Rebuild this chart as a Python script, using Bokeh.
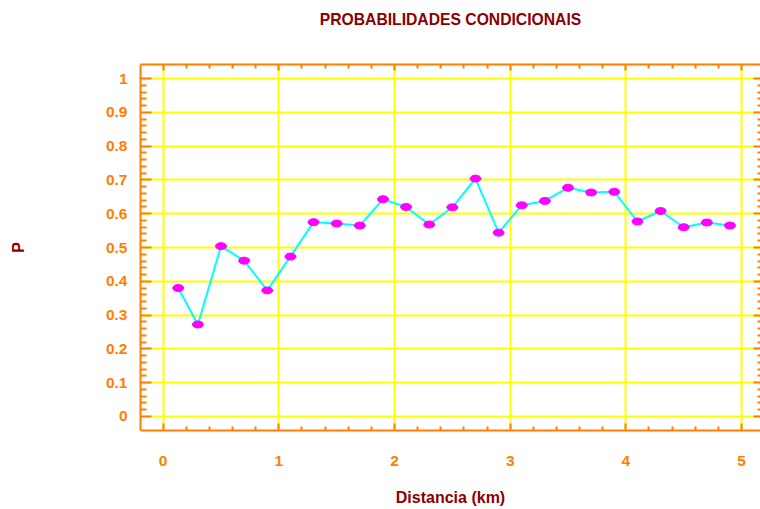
import numpy as np
from bokeh.plotting import figure
from bokeh.models import LinearAxis, FixedTicker, Range1d, ColumnDataSource, Grid
from bokeh.embed import file_html
from bokeh.resources import INLINE

# ---- data ----
distancia = [0.13, 0.3, 0.5, 0.7, 0.9, 1.1, 1.3, 1.5, 1.7, 1.9, 2.1, 2.3, 2.5,
             2.7, 2.9, 3.1, 3.3, 3.5, 3.7, 3.9, 4.1, 4.3, 4.5, 4.7, 4.9]
prob = [0.380, 0.272, 0.504, 0.461, 0.373, 0.473, 0.575, 0.571, 0.565, 0.643,
        0.620, 0.568, 0.619, 0.704, 0.544, 0.625, 0.638, 0.677, 0.663, 0.665,
        0.577, 0.608, 0.560, 0.574, 0.565]
x_ticks = [0, 1, 2, 3, 4, 5]
y_ticks = [0, 0.1, 0.2, 0.3, 0.4, 0.5, 0.6, 0.7, 0.8, 0.9, 1]
y_tick_labels = ["0", "0.1", "0.2", "0.3", "0.4", "0.5", "0.6", "0.7", "0.8", "0.9", "1"]
title_text = "PROBABILIDADES CONDICIONAIS"
x_label = "Distancia (km)"
y_label = "P"

ORANGE = "#FF8000"
DARKRED = "#8B0000"
YELLOW = "#FFFF00"
FONT = "Liberation Sans"

x_minor = [round(v, 2) for v in np.arange(-0.2, 5.21, 0.2) if abs(v - round(v)) > 1e-6]
y_minor = [round(v, 2) for v in np.arange(0.0, 1.001, 0.02) if abs(v * 10 - round(v * 10)) > 1e-6]
xticker = FixedTicker(ticks=x_ticks, minor_ticks=x_minor)
yticker = FixedTicker(ticks=y_ticks, minor_ticks=y_minor)

p = figure(width=760, height=509,
           x_range=Range1d(-0.196, 5.164), y_range=Range1d(-0.042, 1.042),
           output_backend="svg", toolbar_location=None,
           x_axis_location=None, y_axis_location=None,
           min_border_left=140, min_border_right=0,
           min_border_top=64, min_border_bottom=79)
p.outline_line_color = None
p.background_fill_color = "white"
p.border_fill_color = "white"
p.title.text = ""
p.title.visible = False


def style_axis(ax, tick_in, minor_in, line=True):
    ax.axis_line_color = ORANGE if line else None
    ax.axis_line_width = 2
    ax.major_tick_line_color = ORANGE
    ax.major_tick_line_width = 2
    ax.minor_tick_line_color = ORANGE
    ax.minor_tick_line_width = 2
    ax.major_tick_in = tick_in
    ax.major_tick_out = 0
    ax.minor_tick_in = minor_in
    ax.minor_tick_out = 0
    ax.major_label_text_font = FONT
    ax.major_label_text_font_style = "bold"
    ax.major_label_text_color = ORANGE
    ax.major_label_text_font_size = "15.5px"
    ax.axis_label_text_font = FONT
    ax.axis_label_text_font_style = "bold"
    ax.axis_label_text_font_size = "16px"
    ax.axis_label_text_color = DARKRED


bottom = LinearAxis(ticker=xticker, axis_label=x_label)
style_axis(bottom, 7, 4)
bottom.major_label_standoff = 25
bottom.axis_label_standoff = 20
p.add_layout(bottom, "below")

left = LinearAxis(ticker=yticker, axis_label=y_label,
                  major_label_overrides={t: s for t, s in zip(y_ticks, y_tick_labels)})
style_axis(left, 11, 6)
left.major_label_standoff = 13
left.axis_label_standoff = 76
p.add_layout(left, "left")

# top side: major ticks (nearest the frame, zero size), then the axis line +
# minor ticks, which also carries the chart title
top_major = LinearAxis(ticker=FixedTicker(ticks=[], minor_ticks=x_ticks))
style_axis(top_major, 0, 6, line=False)
top_major.major_label_standoff = 0
p.add_layout(top_major, "above")
top_minor = LinearAxis(ticker=FixedTicker(ticks=[], minor_ticks=x_minor), axis_label=title_text)
style_axis(top_minor, 0, 4)
top_minor.major_label_standoff = 0
top_minor.axis_label_text_font_size = "15.7px"
top_minor.axis_label_standoff = 37
p.add_layout(top_minor, "above")

# right side: ticks only
right_minor = LinearAxis(ticker=FixedTicker(ticks=[], minor_ticks=y_minor))
style_axis(right_minor, 0, 3, line=False)
right_minor.major_label_standoff = 0
p.add_layout(right_minor, "right")
right_major = LinearAxis(ticker=FixedTicker(ticks=[], minor_ticks=y_ticks))
style_axis(right_major, 0, 7, line=False)
right_major.major_label_standoff = 0
p.add_layout(right_major, "right")

p.add_layout(Grid(dimension=0, ticker=xticker, grid_line_color=YELLOW, grid_line_width=2))
p.add_layout(Grid(dimension=1, ticker=yticker, grid_line_color=YELLOW, grid_line_width=2))

src = ColumnDataSource(dict(x=distancia, y=prob))
p.line("x", "y", source=src, line_color="#00FFFF", line_width=2)
p.ellipse("x", "y", source=src, width=11, height=7,
          width_units="screen", height_units="screen",
          fill_color="#FF00FF", line_color="#FF00FF")

open("out.html", "w").write(file_html(p, INLINE))
